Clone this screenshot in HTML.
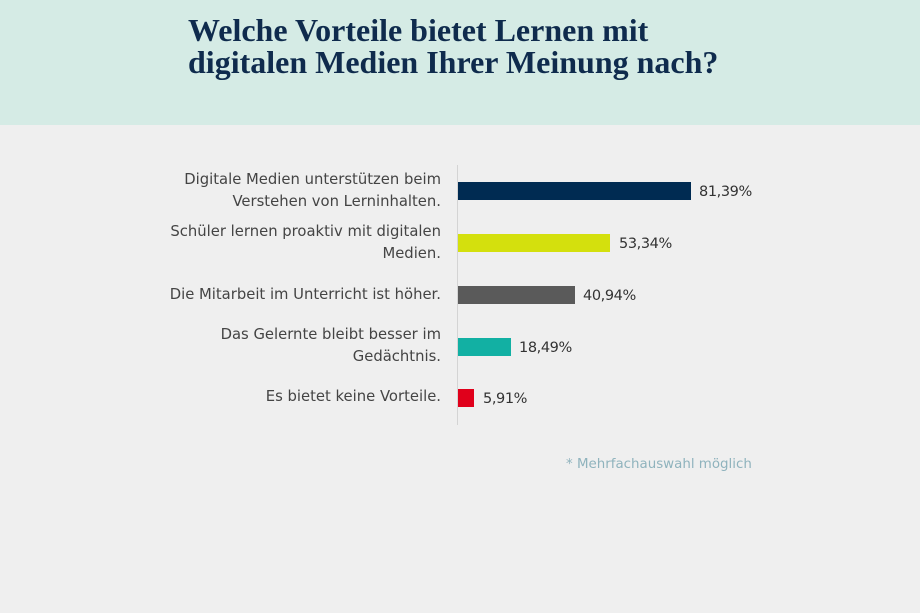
<!DOCTYPE html>
<html><head><meta charset="utf-8"><style>
body{margin:0;width:920px;height:613px;background:#efefef;position:relative;overflow:hidden;font-family:"Liberation Sans",sans-serif}
.hd{position:absolute;left:0;top:0;width:920px;height:125px;background:#d5ebe5}
.t{position:absolute;left:188px;top:14px;font-family:"Liberation Serif",serif;font-weight:bold;font-size:32px;line-height:32px;color:#0f2b4d}
.ax{position:absolute;left:457px;top:165px;width:1px;height:260px;background:#d4d4d4}
.bar{position:absolute;left:458px;height:18px}
.lab{position:absolute;right:479px;width:330px;text-align:right;font-family:"DejaVu Sans",sans-serif;font-size:14.8px;line-height:22px;color:#444}
.v{position:absolute;font-family:"DejaVu Sans",sans-serif;font-size:14.5px;color:#333;line-height:18px;letter-spacing:-0.4px}
.n{position:absolute;left:566px;top:457px;font-family:"DejaVu Sans",sans-serif;font-size:13.4px;color:#8fb3bd}
</style></head><body>
<div class="hd"></div>
<div class="t">Welche Vorteile bietet Lernen mit<br>digitalen Medien Ihrer Meinung nach?</div>
<div class="ax"></div>
<div class="lab" style="top:169px">Digitale Medien unterstützen beim<br>Verstehen von Lerninhalten.</div>
<div class="bar" style="top:182px;width:233px;background:#002b52"></div><div class="v" style="left:699px;top:183px">81,39%</div>
<div class="lab" style="top:221px">Schüler lernen proaktiv mit digitalen<br>Medien.</div>
<div class="bar" style="top:234px;width:152px;background:#d4e00d"></div><div class="v" style="left:619px;top:235px">53,34%</div>
<div class="lab" style="top:284px">Die Mitarbeit im Unterricht ist höher.</div>
<div class="bar" style="top:286px;width:117px;background:#5a5a5a"></div><div class="v" style="left:583px;top:287px">40,94%</div>
<div class="lab" style="top:324px">Das Gelernte bleibt besser im<br>Gedächtnis.</div>
<div class="bar" style="top:338px;width:53px;background:#12b0a3"></div><div class="v" style="left:519px;top:339px">18,49%</div>
<div class="lab" style="top:386px">Es bietet keine Vorteile.</div>
<div class="bar" style="top:389px;width:16px;background:#e0001b"></div><div class="v" style="left:483px;top:390px">5,91%</div>
<div class="n">* Mehrfachauswahl möglich</div>
</body></html>
